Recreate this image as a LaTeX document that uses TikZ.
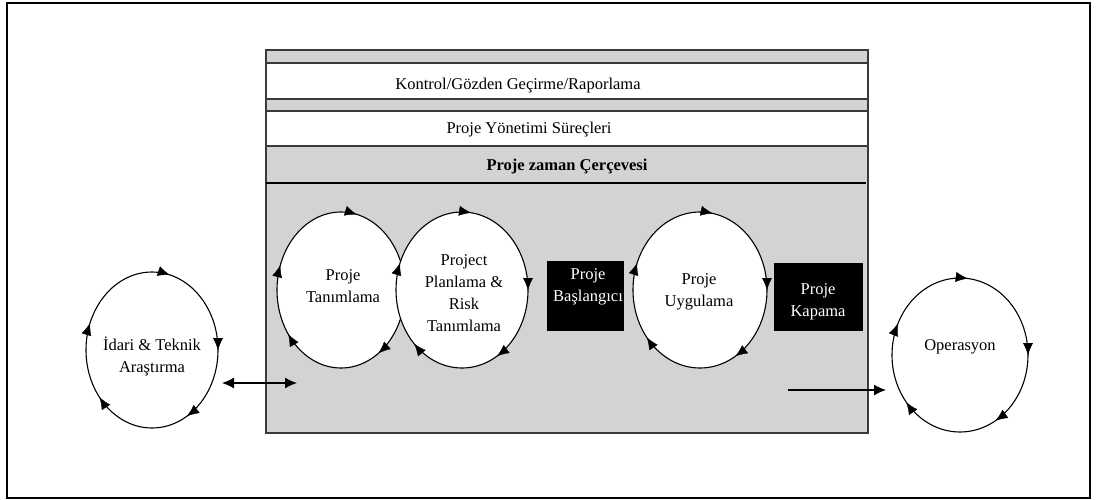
\documentclass[tikz,border=0pt]{standalone}
\usepackage{fontspec}
\setmainfont{Liberation Serif}
\usetikzlibrary{shapes.geometric,arrows.meta,decorations.markings}
\definecolor{panelgray}{HTML}{D3D3D3}
\definecolor{rulegray}{HTML}{3A3A3A}

% arrowheads placed round a cycle ellipse, running clockwise from its top
% #1 node name, #2 x radius, #3 y radius, #4 positions along the loop
\newcommand\cycleheads[4]{%
  \foreach \p in {#4}{%
    \path[decorate, decoration={markings,
        mark=at position \p with {\arrow{Latex[length=12pt,width=10pt]}}}]
      (#1.center) ++(0,#3) arc[start angle=90, end angle=-270,
                               x radius=#2, y radius=#3];
  }%
}

\begin{document}
\begin{tikzpicture}[x=1pt, y=1pt,
  font=\fontsize{16.5}{22}\selectfont,
  cycle/.style={ellipse, draw=black, fill=white, line width=1.1pt, inner sep=0pt},
  blackbox/.style={fill=black, inner sep=0pt},
  lbl/.style={align=center, inner sep=0pt},
  whitelbl/.style={lbl, text=white},
  rule/.style={draw=rulegray, line width=1.6pt},
  conn/.style={line width=1.3pt, -{Latex[length=12pt,width=11pt]}},
  dconn/.style={line width=1.3pt, {Latex[length=12pt,width=11pt]}-{Latex[length=12pt,width=11pt]}},
]
\useasboundingbox (0,0) rectangle (1096,-499);

% outer frame
\draw[line width=1.6pt] (7,-3) rectangle (1090,-498);

% project frame with its bands
\draw[rule, fill=panelgray] (266,-50) rectangle (868,-433);
\draw[rule, fill=white] (266,-63) rectangle (868,-99);
\draw[rule, fill=white] (266,-111) rectangle (868,-146);
\draw[line width=2.6pt] (266,-183) -- (866,-183);

\node[lbl] (ctrl) at (518,-86) {Kontrol/Gözden Geçirme/Raporlama};
\node[lbl] (procs) at (529,-130) {Proje Yönetimi Süreçleri};
\node[lbl, font=\fontsize{16.5}{22}\selectfont\bfseries] (frame) at (567,-167) {Proje zaman Çerçevesi};

% cycles
\node[cycle, minimum width=128, minimum height=156] (tan) at (341,-290) {};
\node[cycle, minimum width=132, minimum height=156] (plan) at (462,-290) {};
\node[cycle, minimum width=134, minimum height=156] (uyg) at (700,-290) {};
\node[cycle, minimum width=132, minimum height=156] (idari) at (152,-350) {};
\node[cycle, minimum width=136, minimum height=154] (oper) at (960,-355) {};

\cycleheads{tan}{64}{78}{0.036,0.408,0.647,0.806}
\cycleheads{plan}{66}{78}{0.02,0.25,0.417,0.622,0.81}
\cycleheads{uyg}{67}{78}{0.028,0.25,0.417,0.64,0.81}
\cycleheads{idari}{66}{78}{0.04,0.25,0.417,0.64,0.81}
\cycleheads{oper}{68}{77}{0.017,0.25,0.417,0.64,0.82}

\node[lbl] (tanlbl) at (343,-286) {Proje\\Tanımlama};
\node[lbl] (planlbl) at (464,-293) {Project\\Planlama \&\\Risk\\Tanımlama};
\node[lbl] (uyglbl) at (699,-292) {Proje\\Uygulama};
\node[lbl] (idarilbl) at (152,-356) {İdari \& Teknik\\Araştırma};
\node[lbl] (operlbl) at (960,-347) {Operasyon};

% black milestone boxes
\node[blackbox, minimum width=77, minimum height=70] (basla) at (585.5,-296) {};
\node[whitelbl] (baslalbl) at (588,-287) {Proje\\Başlangıcı};
\node[blackbox, minimum width=89, minimum height=68] (kapa) at (818.5,-297) {};
\node[whitelbl] (kapalbl) at (818,-302) {Proje\\Kapama};

% connectors
\coordinate (inL) at (222,-383);
\coordinate (inR) at (297,-383);
\draw[dconn] (inL) -- (inR);
\coordinate (outL) at (788,-390);
\coordinate (outR) at (886,-390);
\draw[conn] (outL) -- (outR);
\end{tikzpicture}
\end{document}
